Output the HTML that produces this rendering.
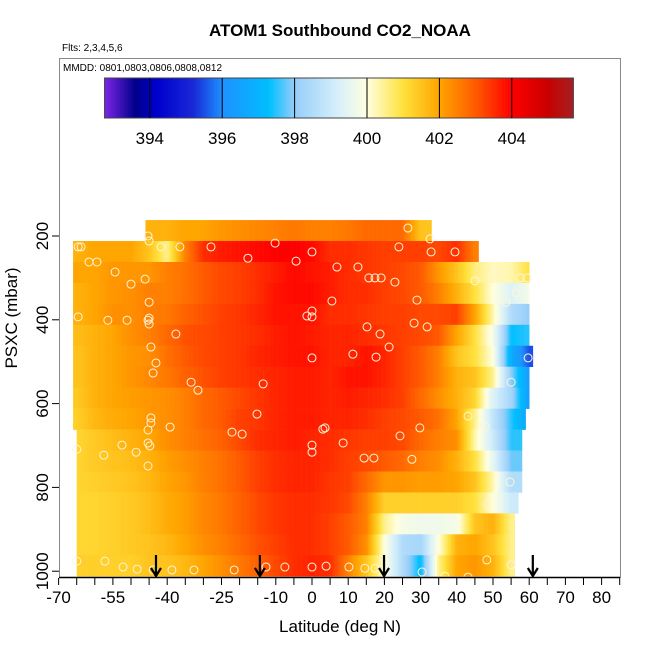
<!DOCTYPE html>
<html><head><meta charset="utf-8"><style>
body{margin:0;background:#fff}
svg{display:block;font-family:"Liberation Sans",sans-serif}
</style></head><body>
<svg id="chart" width="650" height="650" viewBox="0 0 650 650" xmlns="http://www.w3.org/2000/svg">
<text x="340" y="36" text-anchor="middle" font-size="17" font-weight="bold">ATOM1 Southbound CO2_NOAA</text>
<text x="62" y="51" font-size="10">Flts: 2,3,4,5,6</text>
<rect x="59.5" y="58.5" width="561" height="519" fill="none" stroke="#888"/>
<text x="63" y="71" font-size="10">MMDD: 0801,0803,0806,0808,0812</text>
<g id="cbar"></g>
<g id="heat"></g>
<g id="pts"></g>
<g id="arrows"></g>
<g id="axes"></g>
<text x="340" y="632" text-anchor="middle" font-size="17">Latitude (deg N)</text>
<text transform="translate(17,318) rotate(-90)" text-anchor="middle" font-size="17">PSXC (mbar)</text>
</svg>
<script>
const latCenters=[-65,-60,-55,-50,-45,-40,-35,-30,-25,-20,-15,-10,-5,0,5,10,15,20,25,30,35,40,45,50,55,60];
const presCenters=[187,237,287,337,387,437,487,537,587,637,687,737,787,837,887,937,987];
const rowLeft=[-46,-66,-66,-66,-66,-66,-66,-66,-66,-66,-65,-65,-65,-65,-65,-65,-65];
const rowRight=[33,46,60,60,60,60,61,60,60,59,58,58,58,57,56,56,56];
const n=null;
const co2=[
[n,n,n,n,401.8,401.8,402,402,402.2,402.3,402.4,402.5,402.6,402.5,402.5,402.6,402.8,402.8,402.8,401.5,n,n,n,n,n,n],
[401.8,402,402,402,401.5,400.5,402.5,403.5,403.7,403.8,403.9,404,404,403.9,403.5,403.5,403.4,403.3,403.3,403.3,403.2,403.5,402.5,n,n,n],
[402,402,402.2,402.2,402.2,402.5,402.7,403,403.2,403.3,403.5,403.7,403.9,403.8,403.7,403.5,403.4,403.3,403.2,403,402.2,401.5,400.6,400.2,400.3,401],
[401.8,402,402.2,402.3,402.5,402.5,402.7,403,403.2,403.3,403.5,403.8,403.9,403.9,403.7,403.5,403.5,403.3,403.2,403,402.5,401.8,401,400,399.3,399.8],
[401.8,402,402.3,402.3,402.5,402.6,402.9,403.1,403.3,403.4,403.6,403.8,403.8,403.8,403.5,403.5,403.4,403.3,403.3,403.2,403.2,403.3,402,400.3,398.5,398],
[401.6,401.8,402,402.3,402.5,402.8,403.1,403.2,403.3,403.4,403.5,403.7,403.8,403.7,403.6,403.6,403.5,403.4,403.3,403.2,403,402,401,399.8,397.3,397.5],
[401.5,401.8,402,402.2,402.3,402.7,403,403.2,403.3,403.4,403.6,403.7,403.8,403.8,403.6,403.6,403.8,403.6,403.3,403,402.5,401.5,401,400,396.8,395.5],
[401.5,401.8,402,402.2,402.4,402.6,402.9,403.1,403.3,403.4,403.5,403.6,403.7,403.7,403.6,403.8,403.8,403.6,403.3,403,402.5,401.8,401.5,400.5,398,396.3],
[401.4,401.8,402,402.1,402.2,402.3,402.5,402.8,403,403.2,403.4,403.6,403.7,403.7,403.6,403.7,403.6,403.5,403.3,402.8,402.3,401.8,401.2,399.3,398.3,396.3],
[401.3,401.7,401.9,402,402.2,402.3,402.5,402.8,403,403.3,403.4,403.6,403.7,403.7,403.6,403.6,403.5,403.3,403.2,403,402.7,402,400.5,398.8,397.5,396.5],
[401.2,401.4,401.6,401.8,402,402.3,402.5,402.7,402.9,403.2,403.5,403.6,403.7,403.6,403.5,403.4,403.3,403.3,403.2,402.8,402.5,402.3,400.3,399,397.5,n],
[401.2,401.4,401.5,401.6,401.8,402.1,402.3,402.5,402.7,403,403.3,403.5,403.6,403.6,403.5,403.3,403.2,403,402.8,402.5,402.3,401.8,401,399.5,397.8,n],
[401.2,401.3,401.4,401.5,401.7,402,402.2,402.5,402.7,403,403.3,403.5,403.6,403.6,403.4,403.3,402.8,402.2,402.2,402.1,402.1,402,401.5,400.3,398.5,n],
[401.2,401.2,401.3,401.4,401.6,401.9,402.1,402.4,402.6,402.9,403.2,403.4,403.5,403.5,403.4,403.2,402.5,401.3,401.3,401.3,401.3,401.3,401,400,399,n],
[401.2,401.2,401.3,401.4,401.6,401.9,402.1,402.4,402.6,402.9,403.2,403.4,403.5,403.5,403.3,403,402.5,400.5,399.8,399.7,399.7,399.8,401.5,401.8,400.5,n],
[401.2,401.2,401.3,401.4,401.5,401.7,402,402.3,402.5,402.8,403.1,403.3,403.5,403.5,403.3,403,402.3,400,398.5,398.3,400,401.8,402,401.5,400.5,n],
[401.3,401.3,401.3,401.3,401.5,401.5,401.7,402,402.3,402.6,402.9,403.2,403.5,403.6,403.5,402.5,401.5,400,398.5,397.2,400.5,402,402.2,401.8,400.5,n]
];
const ptLat=[-64.6,-63.8,-61.6,-59.4,-54.4,-50,-46.1,-45.3,-45,-41.7,-36.5,-27.9,-17.7,-10.2,-4.4,0,-45,-45,-45.3,-45,-64.6,-56.4,-51.1,-37.6,-44.5,-43.1,-43.9,-33.4,-31.5,-13.5,-15.2,-44.5,-44.5,-45.3,-39.2,-22.1,-19.3,-45.3,-44.8,-65,-52.5,-57.5,-48.6,-45.3,-65,-57.2,-52.2,-48.3,-43.9,-38.7,-32.6,-21.5,-12.7,-7.5,0,3.9,10.2,14.6,17.4,30.4,36.7,43.1,48.3,55,6.9,12.7,15.7,17.4,19.1,22.9,5.5,29,0,-1.4,0,0,11.3,17.7,15.2,18.8,21.3,31.8,28.2,45,50,57.5,59.4,56.4,53.6,3.6,8.6,14.4,17.1,27.6,3,24.3,29.8,43.1,47.8,54.7,48.6,59.7,55,26.5,32.6,39.5,24,32.9,0,0];
const ptPres=[226,226,262,262,286,315,303,200,212,226,226,226,253,217,260,238,358,396,401,410,393,401,401,434,465,503,527,549,568,553,625,634,646,663,656,668,673,694,701,709,699,723,716,749,976,976,990,995,997,997,997,997,990,990,990,988,990,993,993,1002,1012,1014,973,985,274,274,300,300,300,310,355,353,379,391,393,491,482,489,417,434,465,417,408,307,291,300,300,336,358,658,694,730,730,733,661,677,658,630,654,787,840,491,549,181,207,238,226,238,699,716];
const arrowLats=[-43.1,-14.4,19.9,61.0];
const xTicks=[-70,-55,-40,-25,-10,0,10,20,30,40,50,60,70,80];
const yTicks=[200,400,600,800,1000];
const cbTicks=[394,396,398,400,402,404];

const NS="http://www.w3.org/2000/svg";
const X=lat=>312+lat*3.62;
const Y=p=>236+(p-200)*0.419;
const CB=v=>367+(v-400)*36.2;
const stops=[[392.75,[125,38,230]],[393.6,[0,0,139]],[394.2,[0,0,205]],[395.2,[25,40,215]],[396,[30,144,255]],[397.3,[0,191,255]],[398,[150,205,250]],[399.2,[215,240,250]],[400,[255,255,224]],[401,[255,225,60]],[402,[255,165,0]],[403,[255,90,0]],[404,[255,0,0]],[405,[200,0,0]],[405.7,[165,32,32]]];
function col(v){
 if(v<=stops[0][0])return `rgb(${stops[0][1]})`;
 for(let i=1;i<stops.length;i++){if(v<=stops[i][0]){const a=stops[i-1],b=stops[i],t=(v-a[0])/(b[0]-a[0]);
  return `rgb(${a[1].map((c,k)=>Math.round(c+(b[1][k]-c)*t)).join(',')})`;}}
 return `rgb(${stops[stops.length-1][1]})`;
}
function mk(tag,attrs,parent){const e=document.createElementNS(NS,tag);for(const k in attrs)e.setAttribute(k,attrs[k]);parent.appendChild(e);return e;}
const cb=document.getElementById('cbar');
for(let v=392.75;v<405.7;v+=0.05){const r=mk('rect',{x:CB(v),y:78,width:36.2*0.05+0.4,height:40,fill:col(v+0.025)},cb);

}
const cbf=mk('rect',{x:CB(392.75),y:78,width:CB(405.7)-CB(392.75),height:40,fill:'none',stroke:'#444'},cb);


cbTicks.forEach(t=>{const l=mk('line',{x1:CB(t),x2:CB(t),y1:78,y2:118,stroke:'#000'},cb);


const tx=mk('text',{x:CB(t),y:144,'text-anchor':'middle','font-size':17},cb);tx.textContent=t;

});
const hm=document.getElementById('heat');
function valAt(row,lat){
 const vals=co2[row];let i=Math.floor((lat-latCenters[0])/5);
 i=Math.max(0,Math.min(latCenters.length-2,i));
 let a=vals[i],b=vals[i+1];const t=(lat-latCenters[i])/5;
 if(lat<latCenters[0])return vals[0]!=null?vals[0]:b;
 if(lat>latCenters[latCenters.length-1])return vals[vals.length-1];
 if(a==null&&b==null)return null;if(a==null)return b;if(b==null)return a;
 return a+(b-a)*Math.max(0,Math.min(1,t));
}
presCenters.forEach((p,r)=>{
 const y0=Y(p-25),y1=Y(p+25);
 for(let lat=rowLeft[r];lat<rowRight[r];lat+=0.5){
  let v=valAt(r,lat+0.25);
  if(v==null){let best=null,bd=99;co2[r].forEach((x,k)=>{if(x!=null&&Math.abs(latCenters[k]-lat)<bd){bd=Math.abs(latCenters[k]-lat);best=x;}});v=best;}
  const c=mk('rect',{x:X(lat),y:y0,width:3.62*0.5+0.3,height:y1-y0+0.3,fill:col(v)},hm);
  
  
 }
});
const pg=document.getElementById('pts');
ptLat.forEach((la,i)=>{const c=mk('circle',{cx:X(la),cy:Y(ptPres[i]),r:4,fill:'none',stroke:'#fff5d8','stroke-width':1},pg);

});
const ag=document.getElementById('arrows');
arrowLats.forEach(la=>{const x=X(la);const pth=mk('path',{d:`M${x},555 L${x},576 M${x-5},568 L${x},576 L${x+5},568`,stroke:'#000','stroke-width':2.2,fill:'none'},ag);

});
const ax=document.getElementById('axes');
const xl=mk('line',{x1:59,x2:620,y1:577.5,y2:577.5,stroke:'#000','stroke-width':1.5},ax);


for(let t=-70;t<=85;t+=5){const l=mk('line',{x1:X(t),x2:X(t),y1:578,y2:585,stroke:'#000'},ax);

}
xTicks.forEach(t=>{const tx=mk('text',{x:X(t),y:603,'text-anchor':'middle','font-size':17},ax);tx.textContent=t;

});
yTicks.forEach(t=>{const l=mk('line',{x1:52,x2:59,y1:Y(t),y2:Y(t),stroke:'#000'},ax);


const tx=mk('text',{transform:`translate(48,${Y(t)}) rotate(-90)`,'text-anchor':'middle','font-size':17},ax);tx.textContent=t;

});
</script>
</body></html>
